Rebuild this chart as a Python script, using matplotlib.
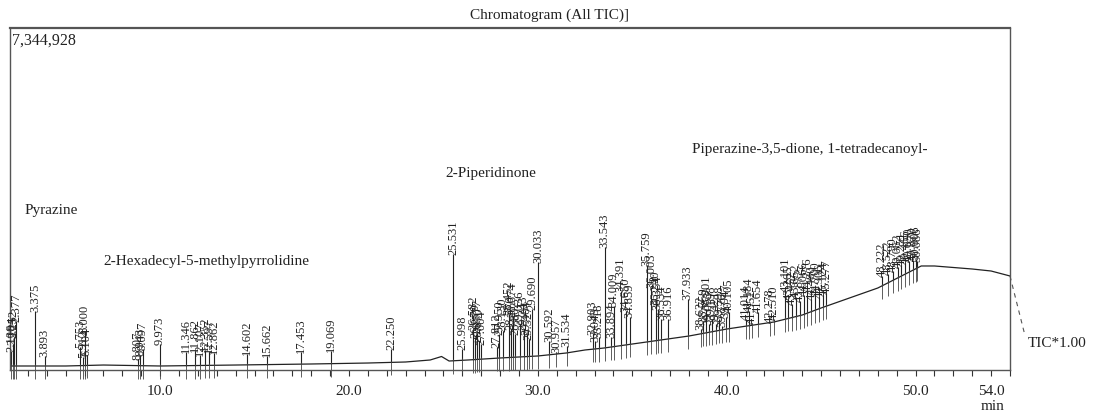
import numpy as np
import matplotlib
matplotlib.use("Agg")
import matplotlib.pyplot as plt
from matplotlib.ticker import FixedLocator, MultipleLocator

plt.rcParams['font.family'] = ['Liberation Serif', 'DejaVu Serif']

# Baseline of the total ion current (time in min, intensity in counts)
base_t = [2.05, 5.0, 7.0, 10.0, 14.0, 18.0, 21.0, 23.0, 24.3, 24.9, 25.3, 26.3,
          28.0, 30.0, 31.5, 32.5, 33.5, 35.0, 36.5, 38.0, 40.0, 42.5, 44.0,
          45.0, 48.0, 50.3, 51.0, 53.0, 54.0, 55.0]
base_v = [86e3, 86e3, 107e3, 86e3, 107e3, 129e3, 150e3, 172e3, 215e3, 290e3, 193e3, 215e3,
          258e3, 301e3, 365e3, 430e3, 472e3, 558e3, 644e3, 730e3, 880e3, 1031e3, 1181e3,
          1332e3, 1761e3, 2234e3, 2234e3, 2169e3, 2126e3, 2019e3]

# Peak retention times (min) and apex intensities (counts)
peak_rt = [2.106, 2.184, 2.252, 2.377, 3.375, 3.893, 5.753, 5.912, 6.000, 6.104,
           8.807, 8.943, 9.097, 9.973, 11.346, 11.862, 12.107, 12.352, 12.597, 12.862,
           14.602, 15.662, 17.453, 19.069, 22.250, 25.531, 25.998,
           26.582, 26.679, 26.777, 26.870, 27.004, 27.812, 27.950, 28.130,
           28.452, 28.570, 28.674, 28.802, 29.036, 29.243, 29.404, 29.527, 29.690,
           30.033, 30.592, 30.957, 31.534, 32.903, 33.043, 33.218, 33.543, 33.894,
           34.009, 34.391, 34.650, 34.859, 35.759, 36.003, 36.240, 36.354, 36.534,
           36.916, 37.933, 38.622, 38.759, 38.901, 39.053, 39.198, 39.421, 39.598,
           39.776, 39.947, 40.105, 41.014, 41.184, 41.352, 41.654, 42.278, 42.510,
           43.101, 43.265, 43.452, 43.652, 43.872, 44.066, 44.276, 44.480, 44.700,
           44.906, 45.124, 45.277, 48.222, 48.522, 48.790, 49.062, 49.251, 49.466,
           49.650, 49.870, 50.006, 50.086]
peak_h = [408e3, 558e3, 709e3, 1052e3, 1267e3, 301e3, 494e3, 279e3, 816e3, 322e3,
          236e3, 322e3, 451e3, 558e3, 387e3, 408e3, 322e3, 430e3, 387e3, 365e3,
          344e3, 301e3, 387e3, 408e3, 451e3, 2491e3, 451e3,
          881e3, 709e3, 795e3, 623e3, 558e3, 494e3, 773e3, 838e3,
          1203e3, 881e3, 1160e3, 773e3, 988e3, 881e3, 773e3, 666e3, 1310e3,
          2319e3, 623e3, 387e3, 515e3, 773e3, 623e3, 709e3, 2642e3, 709e3,
          1374e3, 1697e3, 1267e3, 1138e3, 2255e3, 1783e3, 1417e3, 1310e3, 1095e3,
          1095e3, 1525e3, 881e3, 1052e3, 1310e3, 988e3, 1095e3, 988e3, 1095e3,
          945e3, 1138e3, 1246e3, 1095e3, 1267e3, 1009e3, 1246e3, 1031e3, 1095e3,
          1697e3, 1525e3, 1417e3, 1568e3, 1482e3, 1611e3, 1697e3, 1525e3, 1611e3,
          1568e3, 1611e3, 1654e3, 2019e3, 2062e3, 2126e3, 2212e3, 2255e3, 2298e3,
          2341e3, 2362e3, 2384e3, 2341e3]

y_max = 7344928
tick_major = [10.0, 20.0, 30.0, 40.0, 50.0, 54.0]

# Compound names and where they are written (min, counts)
compounds = ["Pyrazine", "2-Hexadecyl-5-methylpyrrolidine", "2-Piperidinone",
             "Piperazine-3,5-dione, 1-tetradecanoyl-"]
compound_pos = [(2.84, 3.44e6), (6.98, 2.36e6), (25.1, 4.25e6), (38.18, 4.75e6)]

ink = '#222222'
fig = plt.figure(figsize=(10.93, 4.14), dpi=100)
ax = fig.add_axes([10 / 1093, 1 - 371 / 414, 1000 / 1093, 342 / 414])

# trace baseline and the peaks standing on it
ax.plot(base_t, base_v, color=ink, lw=0.9)
peak_base = np.interp(peak_rt, base_t, base_v)
ax.vlines(peak_rt, peak_base, peak_h, color=ink, lw=0.8)

# integration marks below each peak
ax.vlines(peak_rt, peak_base - 280e3, peak_base + 40e3, color='#444444', lw=0.6,
          clip_on=False)

for rt, h in zip(peak_rt, peak_h):
    ax.text(rt, h, f"{rt:.3f}", rotation=90, ha='center', va='bottom',
            fontsize=9, color=ink)

for name, (x, y) in zip(compounds, compound_pos):
    ax.text(x, y, name, ha='left', va='center', fontsize=11, color=ink)

ax.text(0.002, 0.99, "7,344,928", transform=ax.transAxes, ha='left', va='top',
        fontsize=11.5, color=ink)

# TIC scale note at the end of the trace
ax.plot([base_t[-1], 55.8], [base_v[-1], 730e3], color='#555555', lw=0.8,
        ls=(0, (4, 4)), clip_on=False)
ax.text(55.95, 600e3, "TIC*1.00", ha='left', va='center', fontsize=11, color=ink,
        clip_on=False)

ax.set_xlim(2.05, 55.0)
ax.set_ylim(0, y_max)
ax.xaxis.set_major_locator(FixedLocator(tick_major))
ax.xaxis.set_major_formatter(plt.FuncFormatter(lambda v, p: f"{v:.1f}"))
ax.xaxis.set_minor_locator(MultipleLocator(1))
ax.tick_params(axis='x', which='both', direction='out', length=4, width=0.8,
               colors='#333333', labelsize=11, pad=6)
ax.tick_params(axis='x', labelcolor=ink)
ax.set_yticks([])
for side in ['left', 'right', 'top', 'bottom']:
    ax.spines[side].set_color('#555555')
    ax.spines[side].set_linewidth(1.0)
ax.spines['top'].set_linewidth(1.6)

fig.text(550 / 1093, 1 - 15 / 414, "Chromatogram (All TIC)]", ha='center',
         va='center', fontsize=11, color=ink)
fig.text(993 / 1093, 1 - 407 / 414, "min", ha='center', va='center', fontsize=11,
         color=ink)

fig.savefig("out.png", dpi=100)
